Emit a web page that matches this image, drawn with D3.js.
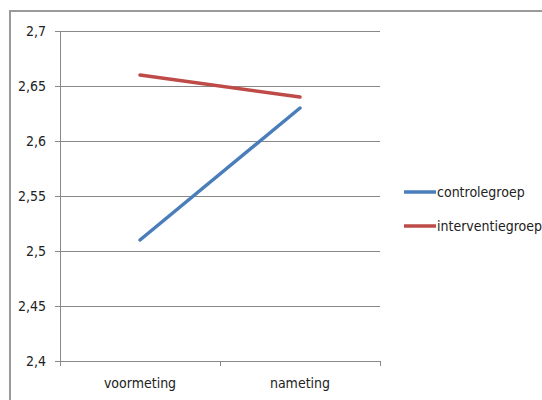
<!DOCTYPE html>
<html>
<head>
<meta charset="utf-8">
<script src="https://cdn.jsdelivr.net/npm/d3@7"></script>
<style>
  html, body { margin: 0; padding: 0; background: #fff; }
  text { font-family: "Liberation Sans Narrow", "DejaVu Sans Condensed", sans-serif; fill: #222; }
</style>
</head>
<body>
<svg id="chart" width="542" height="400"></svg>
<script>
// Measurement moments, series and axis ticks
const categories = ["voormeting", "nameting"];
const seriesNames = ["controlegroep", "interventiegroep"];
const controlegroep = [2.51, 2.63];
const interventiegroep = [2.66, 2.64];
const yTicks = [2.4, 2.45, 2.5, 2.55, 2.6, 2.65, 2.7];
const colors = ["#4a7ebb", "#be4b48"];

const series = [
  { name: seriesNames[0], values: controlegroep, color: colors[0] },
  { name: seriesNames[1], values: interventiegroep, color: colors[1] }
];

const svg = d3.select("#chart");
const plot = { left: 60, top: 31, right: 380, bottom: 361 };

// Outer chart frame
svg.append("rect")
  .attr("x", 10).attr("y", 11)
  .attr("width", 560).attr("height", 420)
  .attr("fill", "none").attr("stroke", "#9a9a9a").attr("stroke-width", 2);

const x = d3.scaleBand().domain(categories).range([plot.left, plot.right]);
const y = d3.scaleLinear().domain([2.4, 2.7]).range([plot.bottom, plot.top]);
const fmt = d => d3.format("")(+d.toFixed(2)).replace(".", ",");

// Horizontal gridlines with left axis labels
const yAxis = d3.axisLeft(y).tickValues(yTicks).tickFormat(fmt)
  .tickSize(-(plot.right - plot.left)).tickPadding(14);
const gy = svg.append("g").attr("transform", `translate(${plot.left},0)`).call(yAxis);
gy.select(".domain").remove();
gy.selectAll(".tick line").attr("stroke", "#888").attr("stroke-width", 1)
  .attr("x1", -5);
gy.selectAll(".tick text").attr("font-size", 14).attr("fill", "#222");

// Vertical axis line
svg.append("line")
  .attr("x1", plot.left + 0.5).attr("x2", plot.left + 0.5)
  .attr("y1", plot.top).attr("y2", plot.bottom + 5)
  .attr("stroke", "#888");

// Category axis with ticks between the categories
const xAxis = d3.axisBottom(x).tickSize(0).tickPadding(17);
const gx = svg.append("g").attr("transform", `translate(0,${plot.bottom})`).call(xAxis);
gx.select(".domain").attr("stroke", "#888");
gx.selectAll(".tick text").attr("font-size", 14).attr("fill", "#222");
const bounds = [x(categories[0]), x(categories[1]), x(categories[1]) + x.bandwidth()];
svg.append("g").selectAll("line").data(bounds).join("line")
  .attr("x1", d => Math.round(d) + 0.5).attr("x2", d => Math.round(d) + 0.5)
  .attr("y1", plot.bottom).attr("y2", plot.bottom + 5)
  .attr("stroke", "#888");

// Series lines
const line = d3.line()
  .x((d, i) => x(categories[i]) + x.bandwidth() / 2)
  .y(d => y(d));
svg.append("g").selectAll("path").data(series).join("path")
  .attr("d", d => line(d.values))
  .attr("fill", "none")
  .attr("stroke", d => d.color)
  .attr("stroke-width", 3.5)
  .attr("stroke-linecap", "round");

// Legend
const lg = svg.append("g").attr("transform", "translate(404,192)");
const item = lg.selectAll("g").data(series).join("g")
  .attr("transform", (d, i) => `translate(0,${i * 34})`);
item.append("line")
  .attr("x1", 0).attr("x2", 32)
  .attr("stroke", d => d.color).attr("stroke-width", 3.5);
item.append("text")
  .attr("x", 33).attr("dy", "0.35em")
  .attr("font-size", 14)
  .text(d => d.name);
</script>
</body>
</html>
